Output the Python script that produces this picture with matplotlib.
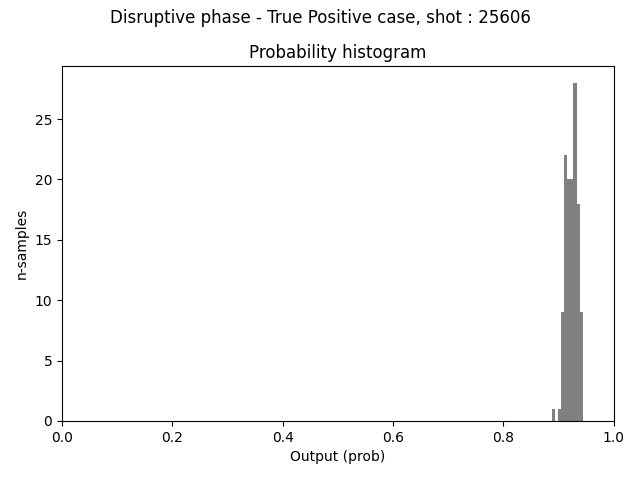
# probability histogram for one shot
import numpy as np
import matplotlib.pyplot as plt

# bin edges span the data range (min .. max), 10 bins
prob_min = 0.8877
prob_max = 0.9438
counts = [1, 0, 1, 9, 22, 20, 20, 28, 18, 9]

edges = np.linspace(prob_min, prob_max, len(counts) + 1)
centers = (edges[:-1] + edges[1:]) / 2

fig = plt.figure(figsize=(6.4, 4.8), dpi=100)
plt.hist(centers, bins=edges, weights=counts, color='grey')
plt.xlim(0, 1)
plt.xlabel('Output (prob)')
plt.ylabel('n-samples')
plt.title('Probability histogram')
plt.suptitle('Disruptive phase - True Positive case, shot : 25606', y=0.982)

plt.subplots_adjust(left=0.097, right=0.959, bottom=0.123, top=0.8625)
plt.savefig('out.png')
